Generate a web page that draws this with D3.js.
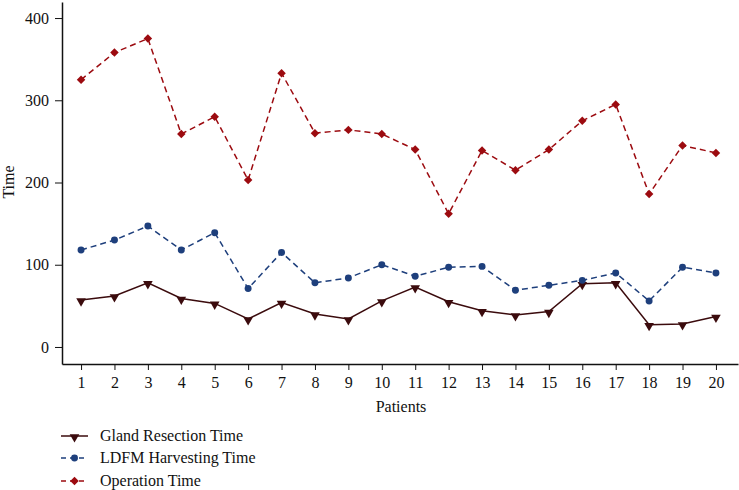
<!DOCTYPE html>
<html>
<head>
<meta charset="utf-8">
<script src="https://cdn.jsdelivr.net/npm/d3@7"></script>
<style>
  html, body { margin: 0; padding: 0; background: #fff; }
  svg { display: block; }
  svg text { font-family: "Liberation Serif", "Times New Roman", "DejaVu Serif", serif !important; fill: #111; }
</style>
</head>
<body>
<svg id="chart" width="739" height="490"></svg>
<script>
const patients = [1,2,3,4,5,6,7,8,9,10,11,12,13,14,15,16,17,18,19,20];
const glandResection = [57,62,78,59,53,34,54,40,34,56,73,55,44,39,43,77,78,27,28,37];
const ldfmHarvesting = [118,130,147,118,139,71,115,78,84,100,86,97,98,69,75,81,90,56,97,90];
const operationTime = [325,358,375,259,280,203,333,260,264,259,240,162,239,215,240,275,295,186,245,236];
const yTicks = [0,100,200,300,400];
const seriesNames = ["Gland Resection Time","LDFM Harvesting Time","Operation Time"];

const FONT = '"Liberation Serif", "Times New Roman", "DejaVu Serif", serif';
const svg = d3.select("#chart");
const x = d3.scaleLinear().domain([0.43, 20.66]).range([62, 738]);
const y = d3.scaleLinear().domain([-20.7, 419.5]).range([364, 2]);

const series = [
  {name: seriesNames[0], values: glandResection, color: "#3b0b0d", dash: null, marker: "triangle"},
  {name: seriesNames[1], values: ldfmHarvesting, color: "#1e3f7c", dash: "6,4", marker: "circle"},
  {name: seriesNames[2], values: operationTime, color: "#9c0b10", dash: "6,4", marker: "diamond"}
];

// axes
const yAxis = svg.append("g").attr("transform","translate(62,0)")
  .call(d3.axisLeft(y).tickValues(yTicks).tickSize(7).tickSizeOuter(0).tickPadding(6));
const xAxis = svg.append("g").attr("transform","translate(0,364)")
  .call(d3.axisBottom(x).tickValues(patients).tickSize(6).tickSizeOuter(0).tickPadding(7));
[yAxis, xAxis].forEach(g => {
  g.attr("font-family", FONT).attr("font-size", 16);
  g.selectAll("path.domain").attr("stroke","#111").attr("stroke-width",1.5);
  g.selectAll(".tick line").attr("stroke","#111").attr("stroke-width",1);
  g.selectAll(".tick text").attr("fill","#111");
});

svg.append("text").attr("transform","translate(14,182) rotate(-90)")
  .attr("text-anchor","middle").attr("font-size",16).text("Time");
svg.append("text").attr("x",401).attr("y",412)
  .attr("text-anchor","middle").attr("font-size",16).text("Patients");

const sym = {
  triangle: d3.symbol().type(d3.symbolTriangle).size(40),
  circle: d3.symbol().type(d3.symbolCircle).size(38),
  diamond: d3.symbol().type(d3.symbolSquare).size(36)
};
function drawMarker(g, s, cx, cy) {
  const p = g.append("path").attr("d", sym[s.marker]()).attr("fill", s.color);
  if (s.marker === "triangle") p.attr("transform", `translate(${cx},${cy+1}) rotate(180)`);
  else if (s.marker === "diamond") p.attr("transform", `translate(${cx},${cy}) rotate(45)`);
  else p.attr("transform", `translate(${cx},${cy})`);
}

const line = d3.line().x((d,i) => x(patients[i])).y(d => y(d));
series.forEach(s => {
  svg.append("path").datum(s.values).attr("d", line)
    .attr("fill","none").attr("stroke", s.color).attr("stroke-width",1.5)
    .attr("stroke-dasharray", s.dash);
  const g = svg.append("g");
  s.values.forEach((v,i) => drawMarker(g, s, x(patients[i]), y(v)));
});

// legend
const legY = [436, 458, 481];
series.forEach((s,i) => {
  const g = svg.append("g");
  g.append("line").attr("x1",61).attr("x2",88).attr("y1",legY[i]).attr("y2",legY[i])
    .attr("stroke", s.color).attr("stroke-width",1.5).attr("stroke-dasharray", s.dash ? "5,4" : null);
  drawMarker(g, s, 74.5, legY[i]);
  g.append("text").attr("x",100).attr("y",legY[i]+5).attr("font-size",16).text(s.name);
});
</script>
</body>
</html>
